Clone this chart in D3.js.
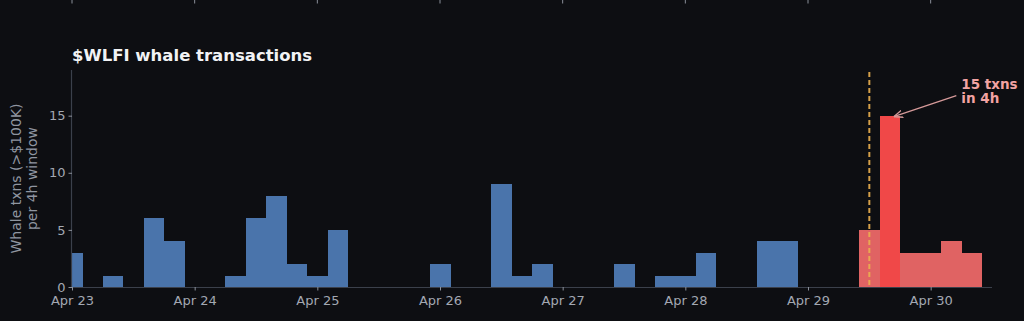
<!DOCTYPE html>
<html>
<head>
<meta charset="utf-8">
<script src="https://cdn.jsdelivr.net/npm/d3@7"></script>
<style>
  html,body{margin:0;padding:0;background:#0d0e12;}
  svg{display:block;font-family:"DejaVu Sans",sans-serif;}
</style>
</head>
<body>
<div id="chart"></div>
<script>
// 4h windows (bar centre) and whale txn counts
const binTimes=['2025-04-23T00:00','2025-04-23T08:00','2025-04-23T16:00','2025-04-23T20:00',
  '2025-04-24T08:00','2025-04-24T12:00','2025-04-24T16:00','2025-04-24T20:00','2025-04-25T00:00','2025-04-25T04:00',
  '2025-04-26T00:00','2025-04-26T12:00','2025-04-26T16:00','2025-04-26T20:00',
  '2025-04-27T12:00','2025-04-27T20:00','2025-04-28T00:00','2025-04-28T04:00',
  '2025-04-28T16:00','2025-04-28T20:00',
  '2025-04-29T12:00','2025-04-29T16:00','2025-04-29T20:00','2025-04-30T00:00','2025-04-30T04:00','2025-04-30T08:00'];
const counts=[3,1,6,4, 1,6,8,2,1,5, 2,9,1,2, 2,1,1,3, 4,4, 5,15,3,3,4,3];
const eventTime='2025-04-29T12:00';
const peakTime='2025-04-29T16:00';
const xDomain=['2025-04-23T00:00','2025-04-30T12:00'];
const yTicks=[0,5,10,15];
const yMax=19;
const dayTicks=['2025-04-23','2025-04-24','2025-04-25','2025-04-26','2025-04-27','2025-04-28','2025-04-29','2025-04-30'];

const parse=s=>new Date(s.length===10?s+'T00:00':s);
const data=binTimes.map((t,i)=>({t:parse(t),v:counts[i]}));
const ev=parse(eventTime),pk=parse(peakTime);
const H4=4*3600*1000;

const W=1024,H=321,m={t:70,r:32,b:34,l:72};
const w=W-m.l-m.r,h=H-m.t-m.b;
const svg=d3.select('#chart').append('svg').attr('width',W).attr('height',H);
svg.append('rect').attr('width',W).attr('height',H).attr('fill','#0d0e12');

const x=d3.scaleTime().domain(xDomain.map(parse)).range([0,w]);
const y=d3.scaleLinear().domain([0,yMax]).range([h,0]);

// ticks of the panel above (cropped)
svg.append('g').selectAll('line').data(dayTicks.map(parse)).join('line')
  .attr('x1',d=>m.l+x(d)).attr('x2',d=>m.l+x(d)).attr('y1',0).attr('y2',3.5)
  .attr('stroke','#8a8f99').attr('stroke-width',1);

svg.append('text').attr('x',m.l).attr('y',61).attr('fill','#f2f3f5')
  .attr('font-size',16.5).attr('font-weight','700').text('$WLFI whale transactions');

const g=svg.append('g').attr('transform',`translate(${m.l},${m.t})`);
g.append('clipPath').attr('id','clip').append('rect').attr('width',w).attr('height',h);

const col=d=>+d.t===+pk?'#f04848':(d.t>=ev?'#e06363':'#4a74ab');
g.append('g').attr('clip-path','url(#clip)').attr('shape-rendering','crispEdges')
  .selectAll('rect').data(data).join('rect')
  .attr('x',d=>x(new Date(+d.t-H4/2))).attr('width',d=>x(new Date(+d.t+H4/2))-x(new Date(+d.t-H4/2))+0.3)
  .attr('y',d=>y(d.v)).attr('height',d=>h-y(d.v)).attr('fill',col);

// event marker
g.append('line').attr('x1',x(ev)).attr('x2',x(ev)).attr('y1',y(yMax)+2).attr('y2',h)
  .attr('stroke','#ebb050').attr('stroke-width',2).attr('stroke-dasharray','5,3').attr('opacity',.9);

// axes
const ax=g.append('g').attr('transform',`translate(0,${h})`)
  .call(d3.axisBottom(x).tickValues(dayTicks.map(parse)).tickFormat(d3.timeFormat('%b %-d')).tickSize(3.5).tickPadding(5));
const ay=g.append('g').call(d3.axisLeft(y).tickValues(yTicks).tickSize(3.5).tickPadding(3));
[ax,ay].forEach(a=>{
  a.select('.domain').attr('stroke','#3b404b').attr('stroke-width',1.2);
  a.selectAll('.tick line').attr('stroke','#8a8f99');
  a.selectAll('.tick text').attr('fill','#a3a8b2').attr('font-size',13).attr('font-family','"DejaVu Sans",sans-serif');
});
ax.select('.domain').attr('d',`M0,0.5H${w}`);
ay.select('.domain').attr('d',`M-0.5,${h}V0`);

// y label
const yl=svg.append('text').attr('transform',`translate(21,${m.t+h/2}) rotate(-90)`)
  .attr('text-anchor','middle').attr('fill','#8f95a0').attr('font-size',14);
yl.append('tspan').attr('x',0).attr('dy',0).text('Whale txns (>$100K)');
yl.append('tspan').attr('x',0).attr('dy',15.5).text('per 4h window');

// annotation
const tx=x(new Date(+pk+14*3600*1000)),ty=y(17.35);
const ann=g.append('text').attr('x',tx).attr('y',ty).attr('fill','#f2a3a3').attr('font-size',13.5).attr('font-weight','700');
ann.append('tspan').attr('x',tx).text('15 txns');
ann.append('tspan').attr('x',tx).attr('dy',14.5).text('in 4h');
svg.append('defs').append('marker').attr('id','arr').attr('viewBox','0 0 10 10').attr('refX',10).attr('refY',5)
  .attr('markerWidth',7).attr('markerHeight',7).attr('orient','auto-start-reverse')
  .append('path').attr('d','M0,1L10,5L0,9').attr('fill','none').attr('stroke','#d69a9a').attr('stroke-width',1.4);
g.append('line').attr('x1',tx-5).attr('y1',y(16.75)).attr('x2',x(pk)+4).attr('y2',y(15)+1)
  .attr('stroke','#d69a9a').attr('stroke-width',1.3).attr('marker-end','url(#arr)');
</script>
</body>
</html>
